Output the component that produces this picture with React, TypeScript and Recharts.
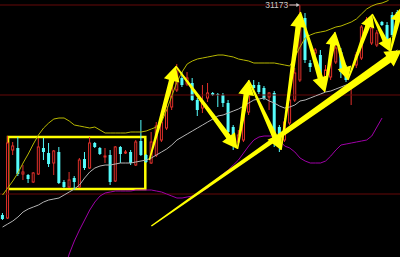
import React from 'react';
import {
  ComposedChart, Bar, Line, XAxis, YAxis, ReferenceLine, ReferenceArea, ReferenceDot,
} from 'recharts';

// ---- data (prices) ----
const opens = [29073,29043,29723,29743,29483,29473,29403,29483,29743,29693,29593,29703,29403,29353,29443,29353,29633,29543,29793,29743,29653,29673,29413,29753,29693,29703,29573,29813,29673,29593,29673,29823,29943,30153,30323,30443,30383,30393,30223,30143,30243,30293,30283,30273,30193,29953,29803,29823,30103,30373,30373,30343,30253,30293,29953,29823,29993,30223,30423,31043,30593,30693,30673,30393,30453,30603,30703,30553,30373,30573,30643,30903,30793,30773,31003,30973,31073,31103];
const closes = [29033,29793,29763,29483,29503,29433,29493,29753,29703,29583,29713,29393,29353,29423,29403,29623,29543,29793,29753,29683,29663,29403,29753,29683,29703,29593,29803,29673,29603,29803,29963,30003,30153,30393,30543,30373,30443,30223,30123,30193,30293,30273,30273,30193,29903,29793,29873,30123,30373,30343,30303,30243,30293,29793,29773,30003,30223,30493,31073,30623,30553,30723,30473,30523,30643,30743,30503,30423,30393,30673,30953,31023,30943,30893,30973,30773,30873,31023];
const highs = [29093,29863,29803,29853,29573,29483,29503,29843,29843,29793,29723,29753,29423,29503,29463,29643,29703,29853,29803,29753,29743,29723,29763,29763,29723,29723,29823,30023,29683,29903,30003,30073,30223,30443,30583,30503,30503,30443,30243,30373,30393,30303,30293,30293,30223,29973,29923,30173,30423,30423,30403,30363,30303,30313,29973,30043,30273,30543,31173,31093,30623,30743,30723,30573,30673,30773,30743,30573,30403,30703,30973,31053,30993,30923,31013,31003,31103,31123];
const lows = [29023,29033,29673,29463,29423,29393,29393,29473,29623,29553,29473,29383,29343,29343,29323,29343,29523,29533,29743,29673,29593,29373,29403,29593,29683,29573,29563,29663,29593,29583,29653,29803,29923,30123,30303,30353,30363,30213,30063,30093,30203,30263,30153,30153,29853,29723,29763,29803,30073,30323,30283,30223,30123,29753,29703,29803,29973,30203,30403,30593,30503,30553,30423,30343,30423,30583,30443,30403,30173,30543,30623,30883,30773,30753,30963,30743,30853,31003];
const upperBand = [29273,29343,29413,29493,29593,29683,29783,29873,29943,29993,30033,30043,30043,30013,29973,29963,29953,29943,29953,29923,29893,29893,29893,29893,29893,29903,29903,29903,29913,29933,29953,30003,30123,30263,30403,30503,30583,30613,30633,30643,30653,30663,30673,30673,30663,30653,30633,30623,30613,30593,30593,30593,30593,30593,30583,30573,30563,30653,30753,30843,30873,30893,30903,30913,30933,30953,30963,30983,31003,31033,31083,31133,31163,31183,31193,31213,31253,31293];
const midBand = [28953,28983,29013,29053,29103,29133,29153,29173,29203,29223,29233,29243,29273,29303,29333,29373,29443,29503,29543,29563,29573,29573,29583,29593,29593,29593,29603,29613,29623,29643,29673,29703,29733,29773,29823,29853,29883,29913,29943,29973,30003,30033,30063,30073,30093,30113,30133,30163,30193,30223,30233,30243,30213,30193,30163,30143,30153,30173,30213,30223,30243,30263,30283,30303,30313,30333,30353,30373,30393,30413,30433,30453,30483,30533,30583,30633,30683,30723];
const lowerBand: (number | null)[] = [null,null,null,null,null,null,null,null,null,null,null,null,28523,28683,28813,28923,29023,29123,29203,29263,29293,29303,29313,29313,29313,29313,29323,29323,29323,29323,29313,29303,29283,29263,29243,29243,29253,29263,29283,29313,29343,29393,29443,29483,29523,29573,29623,29693,29763,29823,29853,29863,29863,29863,29823,29763,29743,29703,29643,29613,29593,29593,29593,29613,29663,29723,29773,29783,29793,29803,29813,29823,29863,29953,30043,null,null,null];

// horizontal marker lines (price levels)
const levelLines = [31173, 30273, 29283];

// consolidation box: [fromBar, toBar, upperPrice, lowerPrice]
const boxRange = [1.55, 27.97, 29853, 29333];

// zig-zag arrow path (bar position, price)
const zigBars = [28.75, 33.82, 45.72, 47.86, 54.1, 57.81, 62.49, 64.44, 66.97, 71.65, 75.16, 77.11];
const zigPrices = [29623, 30563, 29733, 30423, 29723, 31103, 30303, 30903, 30423, 31083, 30703, 31143];

// rising trend line (bar position, price)
const trendBars = [29.14, 77.31];
const trendPrices = [28963, 30723];

const Y_MIN = 28653;
const Y_MAX = 31223;
const N = opens.length;

const rows = opens.map((o, i) => ({
  i,
  open: o,
  close: closes[i],
  high: highs[i],
  low: lows[i],
  range: [lows[i], highs[i]],
  up: upperBand[i],
  mid: midBand[i],
  lo: lowerBand[i],
}));

const maxHigh = Math.max(...highs);
const maxIdx = highs.indexOf(maxHigh);

const RED = '#e0302a';
const CYAN = '#54fcfc';
const YELLOW = '#ffff00';

const Candle = (props: any) => {
  const { x, y, width, height, payload } = props;
  if (x == null || y == null || !payload) return <g />;
  const { open, close, high, low } = payload;
  const top = Math.min(y, y + height);
  const bot = Math.max(y, y + height);
  const span = high - low || 1;
  const py = (v: number) => top + ((high - v) / span) * (bot - top);
  const cx = x + width / 2;
  const bw = width;
  const bt = py(Math.max(open, close));
  const bb = py(Math.min(open, close));
  const bh = Math.max(bb - bt, 1);
  if (close >= open) {
    return (
      <g>
        <line x1={cx} x2={cx} y1={py(high)} y2={bt} stroke={RED} strokeWidth={1} />
        <line x1={cx} x2={cx} y1={bt + bh} y2={py(low)} stroke={RED} strokeWidth={1} />
        <rect x={cx - bw / 2 + 0.5} y={bt} width={bw - 1} height={bh} fill="#000" stroke={RED} strokeWidth={1} />
      </g>
    );
  }
  return (
    <g>
      <line x1={cx} x2={cx} y1={py(high)} y2={py(low)} stroke={CYAN} strokeWidth={1} />
      <rect x={cx - bw / 2} y={bt} width={bw} height={bh} fill={CYAN} />
    </g>
  );
};

const makeArrow = (tail: number, neck: number, headHalf: number, headLen: number) => (p: any) => {
  const { x1, y1, x2, y2 } = p;
  if (![x1, y1, x2, y2].every((v) => Number.isFinite(v))) return <g />;
  const dx = x2 - x1;
  const dy = y2 - y1;
  const L = Math.hypot(dx, dy) || 1;
  const ux = dx / L;
  const uy = dy / L;
  const nx = -uy;
  const ny = ux;
  const bx = x2 - ux * headLen;
  const by = y2 - uy * headLen;
  const pts = [
    [x1 + (nx * tail) / 2, y1 + (ny * tail) / 2],
    [bx + (nx * neck) / 2, by + (ny * neck) / 2],
    [bx + nx * headHalf, by + ny * headHalf],
    [x2, y2],
    [bx - nx * headHalf, by - ny * headHalf],
    [bx - (nx * neck) / 2, by - (ny * neck) / 2],
    [x1 - (nx * tail) / 2, y1 - (ny * tail) / 2],
  ];
  return <polygon points={pts.map((q) => q.join(',')).join(' ')} fill={YELLOW} />;
};

const bigArrow = makeArrow(1.5, 5.5, 8, 15);
const smallArrow = makeArrow(1.5, 5, 7, 13);
const trendArrow = makeArrow(1.5, 8, 9, 16);

const HighMark = (p: any) => {
  const { cx, cy } = p;
  if (!Number.isFinite(cx)) return <g />;
  return (
    <g>
      <text x={cx - 13} y={cy + 3} textAnchor="end" fontSize={8.5} fill="#c8c8c8"
        fontFamily="'Liberation Sans', Arial, sans-serif">{String(maxHigh)}</text>
      <line x1={cx - 12} y1={cy} x2={cx - 4} y2={cy} stroke="#c8c8c8" strokeWidth={1} />
      <polygon points={`${cx - 1.5},${cy} ${cx - 5},${cy - 2} ${cx - 5},${cy + 2}`} fill="#c8c8c8" />
    </g>
  );
};

export default function App() {
  const segs = zigBars.slice(0, -1).map((b, k) => ({
    a: { x: b, y: zigPrices[k] },
    b: { x: zigBars[k + 1], y: zigPrices[k + 1] },
    big: k < 6,
  }));
  return (
    <div style={{ position: 'absolute', left: 0, top: 0, width: 400, height: 257, background: '#000', overflow: 'hidden' }}>
      <ComposedChart width={400} height={257} data={rows} margin={{ top: 0, right: 0, bottom: 0, left: 0 }} barCategoryGap="18%">
        <XAxis dataKey="i" type="category" hide />
        <XAxis xAxisId="n" type="number" domain={[-0.5, N - 0.5]} allowDataOverflow hide />
        <YAxis domain={[Y_MIN, Y_MAX]} allowDataOverflow hide />
        {levelLines.map((v) => (
          <ReferenceLine key={v} y={v} stroke="#660808" strokeWidth={1} ifOverflow="visible" />
        ))}
        <Bar dataKey="range" shape={<Candle />} activeBar={false} isAnimationActive={false} />
        <Line dataKey="up" stroke="#b8b800" strokeWidth={1} dot={false} activeDot={false} isAnimationActive={false} type="linear" />
        <Line dataKey="mid" stroke="#b4b4b4" strokeWidth={1} dot={false} activeDot={false} isAnimationActive={false} type="linear" />
        <Line dataKey="lo" stroke="#a000a8" strokeWidth={1} dot={false} activeDot={false} isAnimationActive={false} type="linear" />
        <ReferenceArea xAxisId="n" x1={boxRange[0]} x2={boxRange[1]} y1={boxRange[2]} y2={boxRange[3]}
          fill="none" fillOpacity={0} stroke={YELLOW} strokeWidth={2.5} ifOverflow="visible" />
        <ReferenceLine xAxisId="n" segment={[{ x: trendBars[0], y: trendPrices[0] }, { x: trendBars[1], y: trendPrices[1] }]}
          shape={trendArrow} ifOverflow="visible" />
        {segs.map((s, k) => (
          <ReferenceLine key={k} xAxisId="n" segment={[s.a, s.b]} shape={s.big ? bigArrow : smallArrow} ifOverflow="visible" />
        ))}
        <ReferenceDot xAxisId="n" x={maxIdx} y={maxHigh} r={0} shape={HighMark} ifOverflow="visible" />
      </ComposedChart>
    </div>
  );
}
